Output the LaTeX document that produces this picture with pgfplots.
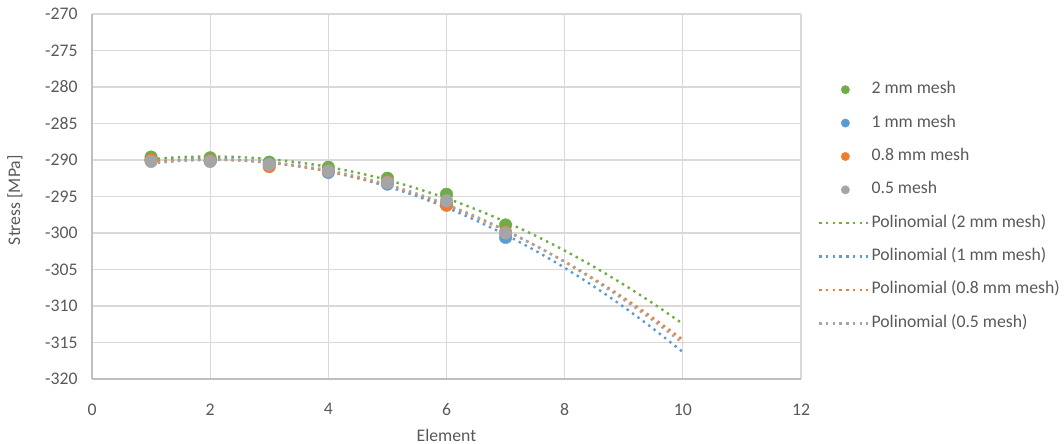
\documentclass[border=0pt]{standalone}
\usepackage{fontspec}
\setmainfont{Carlito}
\usepackage{pgfplots}
\pgfplotsset{compat=1.18}
\definecolor{cgreen}{HTML}{70AD47}
\definecolor{cblue}{HTML}{5B9BD5}
\definecolor{corange}{HTML}{ED7D31}
\definecolor{cgray}{HTML}{A5A5A5}
\definecolor{gridc}{HTML}{D9D9D9}
\definecolor{axisc}{HTML}{BFBFBF}
\definecolor{txt}{HTML}{595959}
\pgfplotsset{
  pts/.style={only marks, mark=*, mark size=6.3bp, mark options={draw=#1, fill=#1},
    legend image code/.code={\draw[mark repeat=2,mark phase=2,##1,mark size=4.2bp] plot coordinates {(0bp,0bp)(26bp,0bp)(52bp,0bp)};}},
  trend/.style={draw=#1, no marks, line width=2.4bp, dash pattern=on 2.4bp off 4.3bp, smooth,
    legend image code/.code={\draw[##1] (0bp,0bp) -- (49bp,0bp);}},
}
\begin{document}
\begin{tikzpicture}[font=\fontsize{17.7bp}{21bp}\selectfont]
\useasboundingbox (0,0) rectangle (1064bp,444bp);
\begin{axis}[
  at={(92bp,65bp)}, anchor=south west,
  scale only axis, width=709bp, height=365bp,
  xmin=0, xmax=12, ymin=-320, ymax=-270,
  xtick={0,2,...,12}, ytick={-320,-315,...,-270},
  grid=major, major grid style={draw=gridc, line width=1.3bp},
  axis lines*=left, axis line style={draw=axisc, line width=1.3bp},
  major tick length=0pt,
  /pgf/number format/assume math mode=true,
  ticklabel style={text=txt},
  xticklabel style={yshift=-21bp},
  yticklabel style={xshift=-11bp},
  xlabel={Element}, ylabel={Stress [MPa]},
  label style={text=txt},
  xlabel style={at={(axis description cs:0.5,-0.1534)}, anchor=center},
  ylabel style={at={(axis description cs:-0.1086,0.49)}, anchor=center, rotate=0},
  legend style={draw=none, fill=none, at={(rel axis cs:1,1)}, anchor=north west,
    xshift=14bp, yshift=-63bp, legend cell align=left, text=txt,
    nodes={text height=12.5bp, text depth=4.5bp}, row sep=12.4bp},
]
\addplot[pts=cgreen] coordinates {(1,-289.6)(2,-289.7)(3,-290.3)(4,-291.0)(5,-292.5)(6,-294.7)(7,-298.9)};
\addlegendentry{2 mm mesh}
\addplot[pts=cblue] coordinates {(1,-290.0)(2,-290.1)(3,-290.6)(4,-291.7)(5,-293.3)(6,-296.1)(7,-300.6)};
\addlegendentry{1 mm mesh}
\addplot[pts=corange] coordinates {(1,-290.0)(2,-290.1)(3,-290.9)(4,-291.5)(5,-293.0)(6,-296.2)(7,-299.9)};
\addlegendentry{0.8 mm mesh}
\addplot[pts=cgray] coordinates {(1,-290.2)(2,-290.2)(3,-290.6)(4,-291.5)(5,-293.1)(6,-295.6)(7,-300.0)};
\addlegendentry{0.5 mesh}
\addplot[trend=cgreen] coordinates {(1,-289.88)(1.5,-289.61)(2,-289.52)(2.5,-289.61)(3,-289.88)(3.5,-290.33)(4,-290.95)(4.5,-291.76)(5,-292.74)(5.5,-293.91)(6,-295.25)(6.5,-296.77)(7,-298.47)(7.5,-300.35)(8,-302.41)(8.5,-304.65)(9,-307.07)(9.5,-309.67)(10,-312.44)};
\addlegendentry{Polinomial (2 mm mesh)}
\addplot[trend=cblue] coordinates {(1,-290.27)(1.5,-289.97)(2,-289.88)(2.5,-289.99)(3,-290.31)(3.5,-290.83)(4,-291.56)(4.5,-292.49)(5,-293.63)(5.5,-294.97)(6,-296.52)(6.5,-298.28)(7,-300.24)(7.5,-302.40)(8,-304.77)(8.5,-307.35)(9,-310.13)(9.5,-313.12)(10,-316.31)};
\addlegendentry{Polinomial (1 mm mesh)}
\addplot[trend=corange] coordinates {(1,-290.27)(1.5,-290.01)(2,-289.94)(2.5,-290.07)(3,-290.38)(3.5,-290.88)(4,-291.57)(4.5,-292.45)(5,-293.52)(5.5,-294.78)(6,-296.23)(6.5,-297.87)(7,-299.69)(7.5,-301.71)(8,-303.91)(8.5,-306.31)(9,-308.89)(9.5,-311.67)(10,-314.63)};
\addlegendentry{Polinomial (0.8 mm mesh)}
\addplot[trend=cgray] coordinates {(1,-290.47)(1.5,-290.12)(2,-289.98)(2.5,-290.04)(3,-290.29)(3.5,-290.75)(4,-291.42)(4.5,-292.28)(5,-293.34)(5.5,-294.61)(6,-296.08)(6.5,-297.75)(7,-299.62)(7.5,-301.70)(8,-303.97)(8.5,-306.45)(9,-309.13)(9.5,-312.01)(10,-315.09)};
\addlegendentry{Polinomial (0.5 mesh)}
\end{axis}
\end{tikzpicture}
\end{document}
